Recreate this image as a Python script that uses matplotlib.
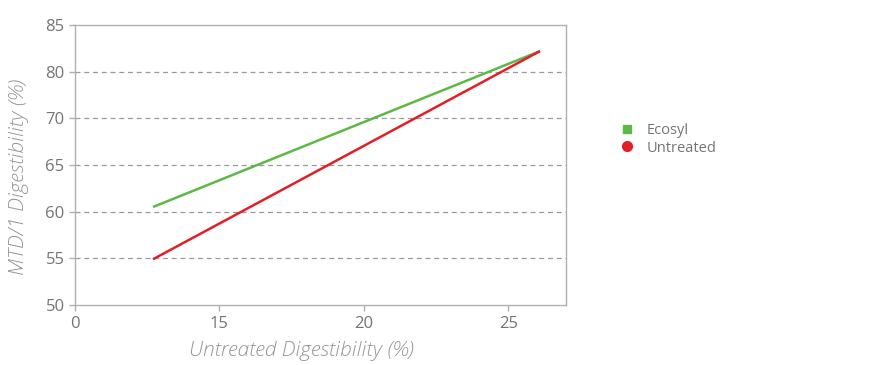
import numpy as np
import matplotlib
matplotlib.use("Agg")
import matplotlib.pyplot as plt
from matplotlib.lines import Line2D

# data (y values as shown by the axis labels)
x_ecosyl = [12.7, 26.1]
y_ecosyl = [60.5, 82.2]
x_untreated = [12.7, 26.1]
y_untreated = [54.9, 82.2]

# the axis labels are printed like this in the original
y_tick_labels = [50, 55, 60, 65, 70, 80, 85]
x_tick_pos = [10, 15, 20, 25]
x_tick_labels = ["0", "15", "20", "25"]

green = "#5cb946"
red = "#e31e26"
grey_txt = "#747474"
grey_lab = "#959595"

plt.rcParams['font.family'] = ['Open Sans', 'DejaVu Sans']

# map label values onto evenly spaced tick positions
y_tick_pos = [50 + 5 * i for i in range(len(y_tick_labels))]
def ymap(v):
    return np.interp(v, y_tick_labels, y_tick_pos)

fig = plt.figure(figsize=(8.94, 3.65), dpi=100)
ax = fig.add_axes([0.0839, 0.1644, 0.5492, 0.7671])

ax.plot(x_ecosyl, ymap(y_ecosyl), color=green, lw=1.8, solid_capstyle="butt")
ax.plot(x_untreated, ymap(y_untreated), color=red, lw=1.8, solid_capstyle="butt")

ax.set_xlim(10, 27)
ax.set_ylim(50, 80)
ax.set_xticks(x_tick_pos)
ax.set_xticklabels(x_tick_labels)
ax.set_yticks(y_tick_pos)
ax.set_yticklabels([str(v) for v in y_tick_labels])

for y in y_tick_pos[1:-1]:
    ax.axhline(y, color="#9a9a9a", lw=0.9, ls=(0, (4, 3)), zorder=0)

for s in ax.spines.values():
    s.set_color("#b0b0b0")
    s.set_linewidth(1.0)

ax.tick_params(axis="both", colors="#b0b0b0", labelcolor=grey_txt,
               labelsize=12, length=4, width=1.0)
ax.tick_params(axis="x", pad=4)

ax.set_xlabel("Untreated Digestibility (%)", style="italic", color=grey_lab,
              fontsize=15, fontweight="light")
ax.set_ylabel("MTD/1 Digestibility (%)", style="italic", color=grey_lab,
              fontsize=15, fontweight="light")
ax.xaxis.set_label_coords(0.462, -0.13)
ax.yaxis.set_label_coords(-0.094, 0.457)

handles = [
    Line2D([], [], ls="", marker="s", color=green, markersize=6),
    Line2D([], [], ls="", marker="o", color=red, markersize=7),
]
leg = fig.legend(handles, ["Ecosyl", "Untreated"], loc="upper left",
                 bbox_to_anchor=(0.678, 0.70), frameon=False,
                 handlelength=1.0, handletextpad=0.9, labelspacing=0.2,
                 fontsize=10.5)
for t in leg.get_texts():
    t.set_color(grey_txt)

fig.savefig("out.png", dpi=100)
